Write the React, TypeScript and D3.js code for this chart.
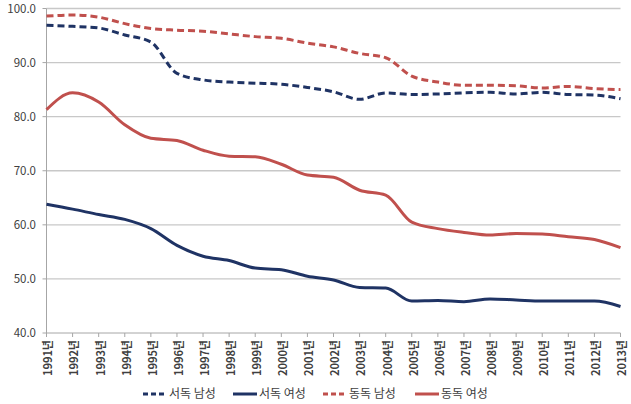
import React from "react";
import * as d3 from "d3";

const years = [1991,1992,1993,1994,1995,1996,1997,1998,1999,2000,2001,2002,2003,2004,2005,2006,2007,2008,2009,2010,2011,2012,2013];
const westMen = [96.9,96.7,96.4,95.1,93.8,88.0,86.8,86.4,86.2,86.0,85.4,84.6,83.2,84.4,84.1,84.2,84.4,84.5,84.2,84.5,84.1,84.0,83.3];
const westWomen = [63.8,62.9,61.9,61.0,59.3,56.2,54.2,53.4,52.0,51.7,50.5,49.8,48.4,48.3,45.9,46.0,45.8,46.3,46.1,45.9,45.9,45.9,44.9];
const eastMen = [98.6,98.8,98.4,97.2,96.3,96.0,95.8,95.3,94.8,94.5,93.6,92.9,91.7,90.9,87.5,86.4,85.8,85.8,85.7,85.3,85.6,85.2,85.0];
const eastWomen = [81.3,84.4,82.7,78.5,76.0,75.6,73.8,72.7,72.6,71.2,69.2,68.8,66.4,65.5,60.5,59.3,58.6,58.1,58.4,58.3,57.8,57.3,55.8];
const yTicks = [40,50,60,70,80,90,100];

const navy = "#1F3364";
const red = "#C0504D";
const seriesList = [
  { name: "서독 남성", values: westMen, color: navy, dash: "7,4" },
  { name: "서독 여성", values: westWomen, color: navy, dash: "" },
  { name: "동독 남성", values: eastMen, color: red, dash: "7,4" },
  { name: "동독 여성", values: eastWomen, color: red, dash: "" },
];

export default function App() {
  const W = 631, H = 404;
  const x = d3.scaleLinear().domain([1991, 2013]).range([46.5, 620.5]);
  const y = d3.scaleLinear().domain([40, 100]).range([333, 8.5]);
  const line = d3.line<number>()
    .x((_, i) => x(years[i]))
    .y((d) => y(d))
    .curve(d3.curveMonotoneX);
  const font = "'Noto Sans CJK KR', 'Noto Sans', sans-serif";
  const legendX = [143, 233, 323, 415];
  return (
    <svg width={W} height={H} style={{ position: "absolute", left: 0, top: 0, background: "#fff" }}>
      {yTicks.filter((t) => t > 40).map((t) => (
        <line key={t} x1={x(1991)} x2={x(2013)} y1={y(t)} y2={y(t)} stroke="#C8C8C8" strokeWidth={1.3} />
      ))}
      <line x1={x(1991)} x2={x(1991)} y1={y(100)} y2={y(40)} stroke="#A6A6A6" strokeWidth={1} />
      <line x1={x(1991)} x2={x(2013)} y1={y(40)} y2={y(40)} stroke="#A6A6A6" strokeWidth={1} />
      {yTicks.map((t) => (
        <g key={t}>
          <line x1={x(1991) - 4} x2={x(1991)} y1={y(t)} y2={y(t)} stroke="#A6A6A6" />
          <text x={36} y={Math.max(y(t), 9)} dy="0.35em" textAnchor="end" fontSize={11.5} fill="#404040" fontFamily={font}>
            {t.toFixed(1)}
          </text>
        </g>
      ))}
      {years.map((yr) => (
        <g key={yr}>
          <line x1={x(yr)} x2={x(yr)} y1={y(40)} y2={y(40) + 4} stroke="#A6A6A6" />
          <text
            transform={`translate(${x(yr) + 2},${340}) rotate(-90)`}
            dy="0.35em"
            textAnchor="end"
            fontSize={11}
            fontWeight="bold"
            fill="#404040"
            fontFamily={font}
          >
            {yr}년
          </text>
        </g>
      ))}
      {seriesList.map((s) => (
        <path key={s.name} d={line(s.values) || ""} fill="none" stroke={s.color} strokeWidth={3} strokeDasharray={s.dash || undefined} />
      ))}
      {seriesList.map((s, i) => (
        <g key={s.name}>
          <line x1={legendX[i]} x2={legendX[i] + 24} y1={394} y2={394} stroke={s.color} strokeWidth={3} strokeDasharray={s.dash ? "5,3" : undefined} />
          <text x={legendX[i] + 26} y={394} dy="0.35em" fontSize={12} fill="#404040" fontFamily={font}>
            {s.name}
          </text>
        </g>
      ))}
    </svg>
  );
}
